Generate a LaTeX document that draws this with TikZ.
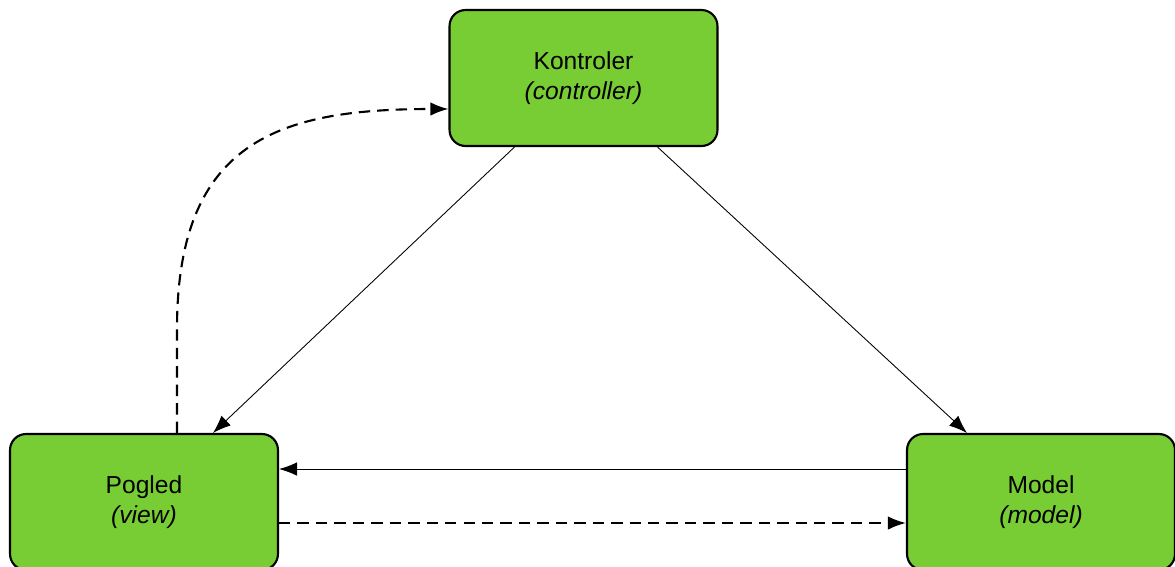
\documentclass[tikz,border=0pt]{standalone}
\usepackage{fontspec}
\setmainfont{Liberation Sans}
\usetikzlibrary{arrows.meta}

\definecolor{boxgreen}{RGB}{120,205,52}

\tikzset{
    mvcbox/.style={draw=black, fill=boxgreen, line width=1.2pt, rounded corners=0.32cm,
        minimum width=5.36cm, minimum height=2.72cm, align=center,
        font=\fontsize{14}{17}\selectfont},
    link/.style={line width=0.5pt, -{Latex[length=0.36cm,width=0.27cm]}},
    dlink/.style={line width=1.2pt, dash pattern=on 6.5pt off 4pt,
        -{Latex[length=0.36cm,width=0.27cm]}}
}

\begin{document}
\begin{tikzpicture}[x=0.02cm,y=-0.02cm]
        
        \useasboundingbox (0,0) rectangle (1175,566);
        \clip (0,0) rectangle (1175,566);

        % Draw the three boxes
        \node[mvcbox] (ctrl) at (583.5,78) {Kontroler\\\textit{(controller)}};
        \node[mvcbox] (view) at (144,502) {Pogled\\\textit{(view)}};
        \node[mvcbox] (model) at (1041,502) {Model\\\textit{(model)}};

        % Draw the solid links
        \draw[link] ([xshift=1.32cm]ctrl.south west) -- ([xshift=1.38cm]view.north);
        \draw[link] ([xshift=-1.22cm]ctrl.south east) -- ([xshift=1.22cm]model.north west);
        \draw[link] ([yshift=0.66cm]model.west) -- ([yshift=0.66cm]view.east);

        % Draw the dashed links
        \draw[dlink] ([yshift=-0.42cm]view.east) -- ([yshift=-0.42cm]model.west);
        \draw[dlink] ([xshift=0.66cm]view.north) -- ++(0,-104)
            .. controls (177,140) and (280,109) .. ([yshift=-0.62cm]ctrl.west);
    \end{tikzpicture}
\end{document}
